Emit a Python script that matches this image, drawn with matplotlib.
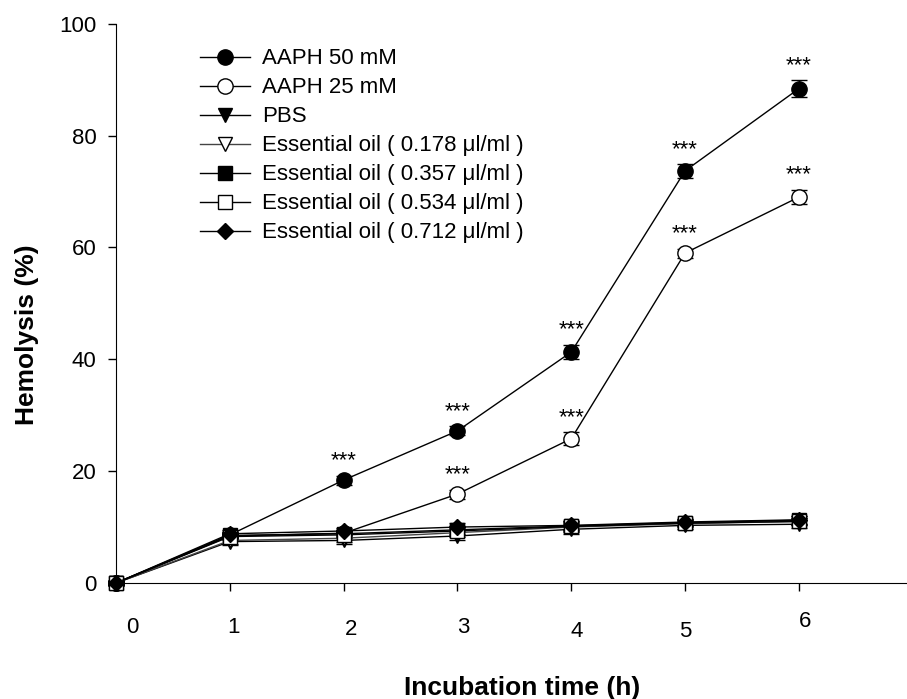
import matplotlib
matplotlib.use("Agg")
import matplotlib.pyplot as plt

plt.rcParams["font.family"] = ["Liberation Sans", "DejaVu Sans"]

# --- Data ---
hours = [0, 1, 2, 3, 4, 5, 6]

aaph50 = [0, 8.6, 18.4, 27.2, 41.3, 73.7, 88.4]
aaph50_err = [0.4, 0.5, 0.8, 0.8, 1.3, 1.2, 1.5]
aaph25 = [0, 8.4, 8.9, 15.9, 25.8, 59.0, 69.0]
aaph25_err = [0.4, 0.5, 0.5, 0.8, 1.2, 0.8, 1.3]

pbs = [0, 7.4, 7.6, 8.4, 9.6, 10.3, 10.5]
oil_178 = [0, 7.6, 8.0, 9.0, 10.0, 10.6, 11.0]
oil_357 = [0, 8.5, 8.8, 9.5, 10.2, 10.8, 11.2]
oil_534 = [0, 8.3, 8.6, 9.3, 10.1, 10.7, 11.0]
oil_712 = [0, 8.8, 9.3, 10.0, 10.3, 10.9, 11.3]
low_err = [0.4, 0.6, 0.6, 0.7, 0.8, 0.6, 0.7]

labels = ["AAPH 50 mM", "AAPH 25 mM", "PBS",
          "Essential oil ( 0.178 \u03bcl/ml )", "Essential oil ( 0.357 \u03bcl/ml )",
          "Essential oil ( 0.534 \u03bcl/ml )", "Essential oil ( 0.712 \u03bcl/ml )"]

star_50 = [2, 3, 4, 5, 6]
star_25 = [3, 4, 5, 6]

# per-label offsets (px) of the slightly misplaced x tick labels
tick_dx = [16, 4, 7, 6, 5, 0, 6]
tick_dy = [-45, -45, -47, -45, -49, -49, -39]

fig = plt.figure(figsize=(9.07, 6.99), dpi=100)
ax = fig.add_axes([0.128, 0.166, 0.872, 0.800])

series = [
    (aaph50, aaph50_err, "o", "black", "black"),
    (aaph25, aaph25_err, "o", "white", "black"),
    (pbs, low_err, "v", "black", "black"),
    (oil_178, low_err, "v", "white", "#444444"),
    (oil_357, low_err, "s", "black", "black"),
    (oil_534, low_err, "s", "white", "black"),
    (oil_712, low_err, "D", "black", "black"),
]

handles = []
for (vals, err, mk, fc, lc), lab in zip(series, labels):
    ms = 11 if mk == "o" else (8 if mk == "D" else 10)
    h = ax.errorbar(hours, vals, yerr=err, marker=mk, markersize=ms,
                    markerfacecolor=fc, markeredgecolor="black", markeredgewidth=1,
                    color=lc, linewidth=1, ecolor="black", elinewidth=1,
                    capsize=6, capthick=1)
    handles.append(h[0])

for x in star_50:
    ax.annotate("***", xy=(x, aaph50[x] + aaph50_err[x]), xytext=(0, 3),
                textcoords="offset points", ha="center", va="bottom", fontsize=16)
for x in star_25:
    ax.annotate("***", xy=(x, aaph25[x] + aaph25_err[x]), xytext=(0, 3),
                textcoords="offset points", ha="center", va="bottom", fontsize=16)

ax.set_xlim(0, 6.95)
ax.set_ylim(0, 100)
ax.set_yticks([0, 20, 40, 60, 80, 100])
ax.set_xticks(hours)
ax.set_xticklabels([])
for x, dx, dy in zip(hours, tick_dx, tick_dy):
    ax.annotate(str(x), xy=(x, 0), xycoords=("data", "axes fraction"),
                xytext=(dx * 0.72, dy * 0.72), textcoords="offset points",
                ha="center", va="center", fontsize=16)

for s in ["top", "right"]:
    ax.spines[s].set_visible(False)
ax.tick_params(direction="out", length=6, width=1, labelsize=16, pad=8)
for p in ax.lines:
    p.set_clip_on(False)

fig.text(0.03, 0.521, "Hemolysis (%)", fontsize=19, fontweight="bold",
         rotation=90, ha="center", va="center")
fig.text(0.576, 0.016, "Incubation time (h)", fontsize=19, fontweight="bold",
         ha="center", va="center")

ax.legend(handles, labels, loc="upper left", bbox_to_anchor=(0.095, 0.972),
          frameon=False, fontsize=16, handlelength=2.25, handletextpad=0.55,
          labelspacing=0.36, borderaxespad=0)

plt.savefig("out.png", dpi=100)
